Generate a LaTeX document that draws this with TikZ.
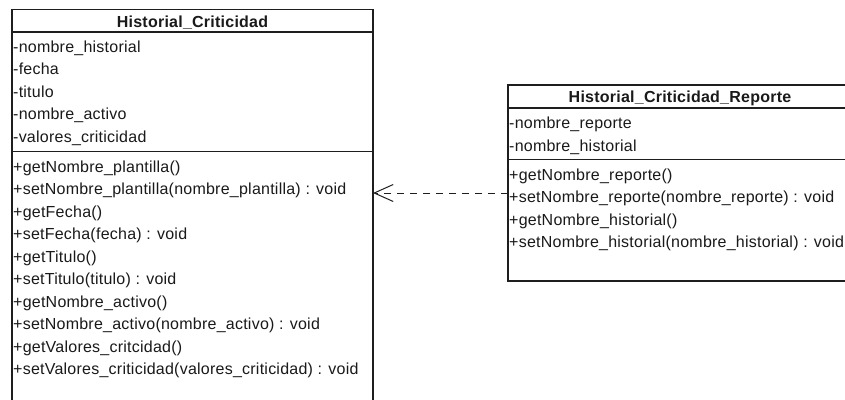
\documentclass[tikz,border=0pt]{standalone}
\usepackage{fontspec}
\setmainfont{Liberation Sans}[LetterSpace=1.5]
\usetikzlibrary{arrows.meta}
\definecolor{umlline}{HTML}{1E1E1E}
\definecolor{umltext}{HTML}{1A1A1A}
\tikzset{
  classbox/.style={draw=umlline, line width=1.3pt, fill=white, rectangle,
    inner sep=0pt, outer sep=0pt, anchor=north west},
  sepline/.style={draw=umlline, line width=1.3pt},
  member/.style={inner sep=0pt, anchor=base west, text=umltext,
    font=\fontsize{16pt}{18pt}\selectfont},
  classname/.style={inner sep=0pt, anchor=base, text=umltext,
    font=\fontsize{16pt}{18pt}\selectfont\bfseries},
  dependency/.style={draw=umlline, line width=1pt, dash pattern=on 7pt off 6pt,
    -{Straight Barb[length=19pt, width=17pt, line width=1pt]}}
}
\begin{document}
\begin{tikzpicture}[x=1pt, y=-1pt]
  \useasboundingbox (0,0) rectangle (845,399);
  \clip (0,0) rectangle (845,399);

  % class Historial_Criticidad
  \node[classbox, minimum width=361pt, minimum height=420pt] (hc) at (12,9.5) {};
  \draw[sepline] (hc.west |- 0,32) -- (hc.east |- 0,32);
  \draw[sepline] (hc.west |- 0,151.5) -- (hc.east |- 0,151.5);
  \node[classname] (hc-name) at (192.5,27.3) {Historial\_Criticidad};
  \node[member] (hc-a1) at (13,52.5) {-nombre\_historial};
  \node[member] (hc-a2) at (13,74.9) {-fecha};
  \node[member] (hc-a3) at (13,97.3) {-titulo};
  \node[member] (hc-a4) at (13,119.7) {-nombre\_activo};
  \node[member] (hc-a5) at (13,142.1) {-valores\_criticidad};
  \node[member] (hc-m1) at (13,172.0) {+getNombre\_plantilla()};
  \node[member] (hc-m2) at (13,194.5) {+setNombre\_plantilla(nombre\_plantilla) : void};
  \node[member] (hc-m3) at (13,217.0) {+getFecha()};
  \node[member] (hc-m4) at (13,239.5) {+setFecha(fecha) : void};
  \node[member] (hc-m5) at (13,262.0) {+getTitulo()};
  \node[member] (hc-m6) at (13,284.5) {+setTitulo(titulo) : void};
  \node[member] (hc-m7) at (13,307.0) {+getNombre\_activo()};
  \node[member] (hc-m8) at (13,329.5) {+setNombre\_activo(nombre\_activo) : void};
  \node[member] (hc-m9) at (13,352.0) {+getValores\_critcidad()};
  \node[member] (hc-m10) at (13,374.5) {+setValores\_criticidad(valores\_criticidad) : void};

  % class Historial_Criticidad_Reporte
  \node[classbox, minimum width=344pt, minimum height=196pt] (hcr) at (508,85) {};
  \draw[sepline] (hcr.west |- 0,108) -- (hcr.east |- 0,108);
  \draw[sepline] (hcr.west |- 0,159.5) -- (hcr.east |- 0,159.5);
  \node[classname] (hcr-name) at (680,102.3) {Historial\_Criticidad\_Reporte};
  \node[member] (hcr-a1) at (509,128.8) {-nombre\_reporte};
  \node[member] (hcr-a2) at (509,151.0) {-nombre\_historial};
  \node[member] (hcr-m1) at (509,180.4) {+getNombre\_reporte()};
  \node[member] (hcr-m2) at (509,202.7) {+setNombre\_reporte(nombre\_reporte) : void};
  \node[member] (hcr-m3) at (509,225.0) {+getNombre\_historial()};
  \node[member] (hcr-m4) at (509,247.3) {+setNombre\_historial(nombre\_historial) : void};

  % dependency
  \coordinate (dep-level) at (0,193);
  \draw[dependency] (hcr.west |- dep-level) -- (hc.east |- dep-level);
\end{tikzpicture}
\end{document}
